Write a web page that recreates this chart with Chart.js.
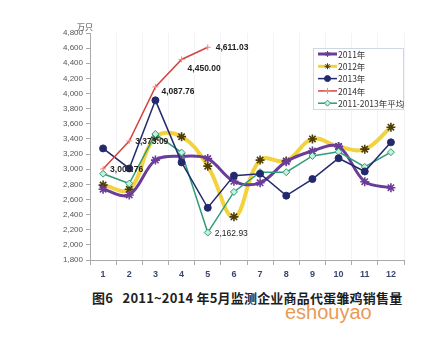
<!DOCTYPE html>
<html lang="zh">
<head>
<meta charset="UTF-8">
<title>商品代蛋雏鸡销售量</title>
<script src="https://cdn.jsdelivr.net/npm/chart.js"></script>
<style>
    body { margin: 0; background: #fff; }
    .wrap { position: relative; width: 435px; height: 341px; overflow: hidden; }
    #chart { position: absolute; left: 0; top: 0; }
    .caption {
        position: absolute; left: 92px; top: 288px;
        font-family: "Noto Sans CJK SC", sans-serif; font-weight: bold;
        font-size: 13px; color: #1e1e1e; white-space: nowrap; letter-spacing: 0.2px;
    }
    .mark {
        position: absolute; left: 285px; top: 301px;
        font-family: "Liberation Sans", Arial, sans-serif;
        font-size: 20px; color: #e99a55; white-space: nowrap;
    }
</style>
</head>
<body>
<div class="wrap">
    <canvas id="chart" width="435" height="285"></canvas>
    <div class="caption">图6&nbsp;&nbsp; 2011~2014 年5月监测企业商品代蛋雏鸡销售量</div>
    <div class="mark">eshouyao</div>
</div>

<script>
// months
const months = ["1", "2", "3", "4", "5", "6", "7", "8", "9", "10", "11", "12"];

// sales, 万只
const sales2011 = [2735, 2660, 3120, 3170, 3140, 2840, 2820, 3100, 3240, 3300, 2835, 2755];
const sales2012 = [2790, 2735, 3420, 3430, 3040, 2370, 3120, 3110, 3400, 3300, 3265, 3555];
const sales2013 = [3275, 3010, 3910, 3090, 2490, 2915, 2940, 2650, 2870, 3145, 2970, 3355];
const sales2014 = [3003.76, 3373.09, 4087.76, 4450.00, 4611.03];
const salesAvg = [2940, 2810, 3465, 3220, 2162.93, 2700, 2960, 2960, 3175, 3230, 3030, 3225];

const seriesNames = ["2011年", "2012年", "2013年", "2014年", "2011-2013年平均"];

// y axis
const yMin = 1800;
const yMax = 4800;
const yStep = 200;

// which points get a value label: [dataset index, point index, dx, dy, bold]
const valueLabels = [
    [3, 0, 7, 1, true],
    [3, 1, 6, 1, true],
    [3, 2, 6, 5, true],
    [3, 3, 6, 9, true],
    [3, 4, 8, 0, true],
    [4, 4, 7, 1, false]
];

function fmt(v, dec) {
    return v.toLocaleString("en-US", { minimumFractionDigits: dec, maximumFractionDigits: dec });
}

const extras = {
    id: "extras",
    afterDatasetsDraw(chart) {
        const ctx = chart.ctx;
        ctx.save();
        ctx.textBaseline = "middle";
        ctx.textAlign = "left";
        ctx.fillStyle = "#222";
        valueLabels.forEach(([ds, i, dx, dy, bold]) => {
            const pt = chart.getDatasetMeta(ds).data[i];
            const v = chart.data.datasets[ds].data[i];
            ctx.font = (bold ? "bold " : "") + "8.5px 'Liberation Sans', Arial, sans-serif";
            ctx.fillText(fmt(v, 2), pt.x + dx, pt.y + dy);
        });

        // unit above the y axis
        const ya = chart.scales.y;
        ctx.font = "8px 'Noto Sans CJK SC', sans-serif";
        ctx.fillStyle = "#444";
        ctx.fillText("万只", ya.right - 13, chart.chartArea.top - 6);

        // legend box inside the plot
        const bx = 313, by = 48, bw = 90, bh = 61;
        ctx.fillStyle = "#fff";
        ctx.fillRect(bx, by, bw, bh);
        ctx.strokeStyle = "#cdd8e4";
        ctx.lineWidth = 1;
        ctx.strokeRect(bx + 0.5, by + 0.5, bw, bh);
        chart.data.datasets.forEach((d, k) => {
            const yy = by + 6 + k * 12.3;
            ctx.strokeStyle = d.borderColor;
            ctx.lineWidth = Math.min(d.borderWidth, 3);
            ctx.beginPath();
            ctx.moveTo(bx + 5, yy);
            ctx.lineTo(bx + 24, yy);
            ctx.stroke();
            ctx.strokeStyle = d.pointBorderColor;
            ctx.fillStyle = d.pointBackgroundColor;
            ctx.lineWidth = 1;
            Chart.helpers.drawPoint(ctx, {
                pointStyle: d.pointStyle,
                radius: Math.min(d.pointRadius, 3),
                rotation: 0,
                borderWidth: 1
            }, bx + 14.5, yy);
            ctx.fillStyle = "#333";
            ctx.font = "8.5px 'Noto Sans CJK SC', sans-serif";
            ctx.fillText(d.label, bx + 25, yy + 0.5);
        });
        ctx.restore();
    }
};

new Chart(document.getElementById("chart"), {
    type: "line",
    data: {
        labels: months,
        datasets: [
            {
                label: seriesNames[0], data: sales2011, order: 2,
                borderColor: "#6b3d98", borderWidth: 3, tension: 0.35,
                pointStyle: "star", pointRadius: 4.5, pointBorderWidth: 1.6,
                pointBorderColor: "#6b3d98", pointBackgroundColor: "#6b3d98"
            },
            {
                label: seriesNames[1], data: sales2012, order: 3,
                borderColor: "#f2d33e", borderWidth: 4, tension: 0.4,
                pointStyle: "star", pointRadius: 4.5, pointBorderWidth: 1.6,
                pointBorderColor: "#4d3c06", pointBackgroundColor: "#f2d33e"
            },
            {
                label: seriesNames[2], data: sales2013, order: 1,
                borderColor: "#232a6c", borderWidth: 1.5, tension: 0,
                pointStyle: "circle", pointRadius: 3.5, pointBorderWidth: 1,
                pointBorderColor: "#232a6c", pointBackgroundColor: "#232a6c"
            },
            {
                label: seriesNames[3], data: sales2014, order: 0,
                borderColor: "#d6443d", borderWidth: 1.5, tension: 0,
                pointStyle: "cross", pointRadius: 3, pointBorderWidth: 1,
                pointBorderColor: "#ee8a85", pointBackgroundColor: "#ee8a85"
            },
            {
                label: seriesNames[4], data: salesAvg, order: 1,
                borderColor: "#2d9c78", borderWidth: 1.5, tension: 0,
                pointStyle: "rectRot", pointRadius: 3.5, pointBorderWidth: 1,
                pointBorderColor: "#2d9c78", pointBackgroundColor: "#c3f0da"
            }
        ]
    },
    options: {
        responsive: false,
        animation: false,
        layout: { padding: { left: 50, top: 33, right: 31, bottom: 0 } },
        plugins: { legend: { display: false }, tooltip: { enabled: false } },
        scales: {
            x: {
                offset: true,
                afterFit(s) { s.height = 25; },
                grid: {
                    offset: true, color: "#f3f3f7", tickColor: "#aaa", tickLength: 5
                },
                border: { color: "#aaa" },
                ticks: {
                    color: "#3d4670", padding: 4,
                    font: { family: "'Liberation Sans', Arial, sans-serif", size: 9, weight: "bold" }
                }
            },
            y: {
                min: yMin, max: yMax,
                afterFit(s) { s.width = 40; },
                grid: { drawOnChartArea: false, tickColor: "#aaa", tickLength: 4 },
                border: { color: "#aaa" },
                ticks: {
                    stepSize: yStep, color: "#555", padding: 3,
                    font: { family: "'Liberation Sans', Arial, sans-serif", size: 8 },
                    callback: v => fmt(v, 0)
                }
            }
        }
    },
    plugins: [extras]
});
</script>
</body>
</html>
